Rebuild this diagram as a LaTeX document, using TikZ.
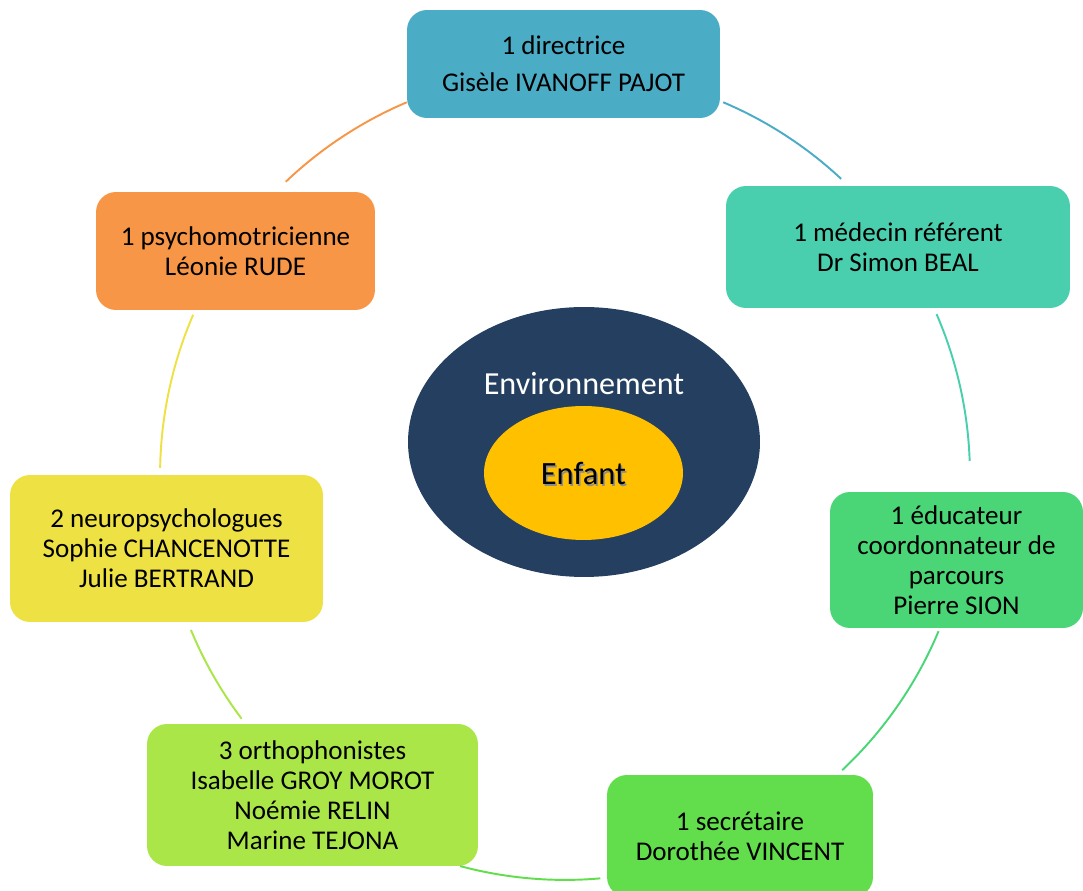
\documentclass[tikz,border=0pt]{standalone}
\usepackage{fontspec}
\setmainfont{Carlito}
\usetikzlibrary{shapes.geometric}

\definecolor{dirblue}{HTML}{4BACC6}
\definecolor{medteal}{HTML}{4ACFAE}
\definecolor{edugreen}{HTML}{4AD677}
\definecolor{secgreen}{HTML}{62DE4C}
\definecolor{ortlime}{HTML}{AAE647}
\definecolor{neuyellow}{HTML}{EEE144}
\definecolor{psyorange}{HTML}{F79646}
\definecolor{envblue}{HTML}{243F60}
\definecolor{enfgold}{HTML}{FFC000}

\tikzset{
  >=latex,
  membre/.style={rounded corners=0.4cm, align=center, text=black, inner sep=0pt,
    font=\fontsize{15.4}{17}\selectfont},
  lien/.style={line width=1.1pt},
}

\begin{document}
\begin{tikzpicture}[x=0.02cm,y=-0.02cm]
  \useasboundingbox (0,0) rectangle (1083,891);

  % la ronde des membres
  \node[membre, fill=dirblue, minimum width=6.26cm, minimum height=2.16cm] (dir) at (563.5,64)
    {1 directrice\\[4pt]Gisèle IVANOFF PAJOT};
  \node[membre, fill=medteal, minimum width=6.88cm, minimum height=2.44cm] (med) at (898,247)
    {1 médecin référent\\Dr Simon BEAL};
  \node[membre, fill=edugreen, minimum width=5.06cm, minimum height=2.72cm] (edu) at (956.5,560)
    {1 éducateur\\coordonnateur de\\parcours\\Pierre SION};
  \node[membre, fill=secgreen, minimum width=5.32cm, minimum height=2.44cm] (sec) at (740,836)
    {1 secrétaire\\Dorothée VINCENT};
  \node[membre, fill=ortlime, minimum width=6.62cm, minimum height=2.84cm] (ort) at (312.5,795)
    {3 orthophonistes\\Isabelle GROY MOROT\\Noémie RELIN\\Marine TEJONA};
  \node[membre, fill=neuyellow, minimum width=6.26cm, minimum height=2.94cm] (neu) at (166.5,548.5)
    {2 neuropsychologues\\Sophie CHANCENOTTE\\Julie BERTRAND};
  \node[membre, fill=psyorange, minimum width=5.58cm, minimum height=2.36cm] (psy) at (235.5,251)
    {1 psychomotricienne\\Léonie RUDE};

  % au centre
  \node[ellipse, fill=envblue, minimum width=7.04cm, minimum height=5.4cm] (env) at (584,442) {};
  \node[text=white, font=\fontsize{18.3}{22}\selectfont] (envtxt) at (584,384) {Environnement};
  \node[ellipse, fill=enfgold, minimum width=3.98cm, minimum height=2.68cm] (enf) at (583.5,473) {};
  \node[text=black!45, font=\fontsize{18.5}{22}\selectfont] (enfombre) at (585,475) {Enfant};
  \node[text=black, font=\fontsize{18.5}{22}\selectfont] (enftxt) at (583.5,473) {Enfant};

  % arcs entre les membres
  \coordinate (ctr) at (565,475);
  \foreach \a/\b/\c in {67/47/dirblue, 23.4/2/medteal, -22.7/-46.8/edugreen,
      -85/-105/secgreen, -143/-157.5/ortlime, 179/156.7/neuyellow, 133.6/113/psyorange}
    \draw[lien, \c] (ctr) ++(\a:8.1cm) arc[start angle=\a, end angle=\b, radius=8.1cm];

\end{tikzpicture}
\end{document}
